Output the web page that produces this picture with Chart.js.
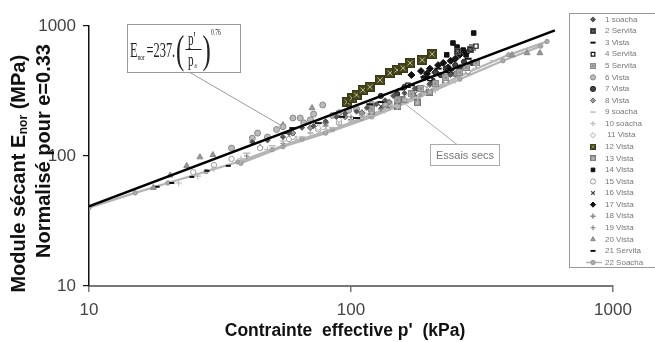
<!DOCTYPE html>
<html>
<head>
<meta charset="utf-8">
<script src="https://cdn.jsdelivr.net/npm/chart.js@4/dist/chart.umd.min.js"></script>
<style>
  html, body { margin: 0; padding: 0; background: #fff; }
  #wrap { position: relative; width: 655px; height: 342px; }
</style>
</head>
<body>
<div id="wrap"><canvas id="c" width="655" height="342"></canvas></div>
<script>
(function () {
  'use strict';

  // axes
  var xTicks = [10, 100, 1000];
  var yTicks = [10, 100, 1000];

  var seriesNames = ['1 soacha', '2 Servita', '3 Vista', '4 Servita', '5 Servita', '6 Vista', '7 Vista',
    '8 Vista', '9 soacha', '10 soacha', ' 11 Vista', '12 Vista', '13 Vista', '14 Vista', '15 Vista',
    '16 Vista', '17 Vista', '18 Vista', '19 Vista', '20 Vista', '21 Servita', '22 Soacha'];

  // fitted law E = 237 (p'/pa)^0.76, read at its two ends
  var fitLine = [[10, 41], [600, 925]];

  // [p' (kPa), Enor (MPa)]
  var s1 = [[42, 128], [48, 132], [55, 140], [58, 150], [65, 165], [72, 170], [80, 185], [88, 200], [95, 212], [105, 220], [115, 235], [125, 250], [135, 268], [145, 290], [160, 305], [175, 330], [200, 360], [240, 420]];
  var s2 = [[255, 640], [285, 660]];
  var s3 = [[56, 150], [60, 164], [75, 179], [92, 200], [105, 196], [118, 250], [130, 260], [155, 325], [170, 350], [190, 405], [215, 470], [240, 460], [280, 560]];
  var s4 = [[165, 350], [200, 395], [235, 455], [300, 700]];
  var s5 = [[120, 230], [150, 270], [170, 300], [185, 330], [210, 360], [230, 400], [260, 440], [275, 480], [300, 520]];
  var s6 = [[35, 115], [42, 137], [44, 150], [48, 140], [52, 160], [55, 168], [60, 196], [64, 196], [66, 180], [70, 190], [72, 210], [78, 247], [85, 205], [90, 215], [98, 225], [105, 230], [120, 250]];
  var s7 = [[130, 290], [150, 300], [160, 340], [180, 330], [190, 400], [205, 380], [210, 440], [220, 420], [230, 470], [240, 430], [250, 500], [260, 480], [270, 530], [290, 520]];
  var s8 = [[60, 150], [70, 165], [80, 180], [95, 200], [110, 215], [120, 240], [140, 260], [170, 300], [200, 355], [250, 430]];
  var s9 = [[40, 105], [50, 120], [65, 140], [85, 165], [110, 195], [145, 245], [190, 300], [230, 360], [300, 470], [350, 540]];
  var s10 = [[22, 62], [26, 70], [30, 80], [38, 95], [48, 112], [55, 130], [62, 135], [70, 150], [80, 160], [90, 175], [100, 185], [120, 205], [135, 225], [150, 240], [165, 265], [180, 280], [210, 320], [250, 380]];
  var s11 = [[60, 140], [75, 165], [90, 190], [115, 220], [140, 255], [165, 285], [200, 340], [230, 380], [280, 450]];
  var s12 = [[96.6, 260], [101, 279], [105, 295], [111, 322], [118, 340], [129, 384], [141, 435], [150, 459], [158, 475], [168, 519], [187, 547], [204, 609]];
  var s13 = [[120, 220], [135, 250], [151, 240], [160, 270], [179, 256], [200, 310], [230, 380], [292, 680]];
  var s14 = [[245, 740], [254, 689], [268, 653], [290, 689], [294, 883], [232, 600], [275, 600]];
  var s15 = [[25, 75], [30, 85], [35, 95], [45, 115], [58, 135], [75, 160], [90, 180], [110, 210], [140, 250], [190, 330]];
  var s16 = [[130, 240], [151, 247], [175, 300], [200, 400], [230, 450], [260, 470]];
  var s17 = [[170, 420], [185, 450], [200, 470], [215, 500], [225, 520], [240, 540], [250, 560], [260, 600], [275, 620], [210, 440], [195, 430], [235, 480]];
  var s18 = [[45, 118], [60, 140], [80, 170], [100, 190], [110, 215], [130, 230], [160, 280], [190, 320], [230, 390], [300, 500]];
  var s19 = [[40, 100], [55, 125], [70, 150], [90, 180], [100, 200], [120, 206], [140, 240], [150, 265], [170, 290], [185, 300], [210, 345], [250, 410]];
  var s20 = [[17.6, 57], [20.4, 71], [23.6, 84], [26.5, 98], [29.7, 102], [55, 173], [71, 234], [412, 598], [470, 620], [526, 620]];
  var s21 = [[18.2, 58], [20.7, 62], [24.7, 69], [28.2, 77], [34, 84]];
  var s22 = [[10, 40], [15, 52], [20, 62], [28, 76], [37, 90], [50, 112], [65, 135], [85, 160], [110, 195], [150, 250], [200, 320], [280, 440], [400, 600], [560, 760],
    null, [38, 88], [55, 118], [80, 150], [120, 200], [180, 280], [260, 390], [380, 540], [530, 700]];

  var seriesData = [s1, s2, s3, s4, s5, s6, s7, s8, s9, s10, s11, s12, s13, s14, s15, s16, s17, s18, s19, s20, s21, s22];

  function makeBox(size, fill, edge, mark) {
    var c = document.createElement('canvas');
    c.width = size; c.height = size;
    var g = c.getContext('2d');
    g.fillStyle = fill; g.fillRect(0, 0, size, size);
    g.strokeStyle = edge; g.lineWidth = 1; g.strokeRect(0.5, 0.5, size - 1, size - 1);
    g.strokeStyle = mark; g.lineWidth = 1;
    g.beginPath();
    g.moveTo(2.5, 2.5); g.lineTo(size - 2.5, size - 2.5);
    g.moveTo(size - 2.5, 2.5); g.lineTo(2.5, size - 2.5);
    g.stroke();
    return c;
  }

  var oliveBox = makeBox(10, '#45451c', '#3a3a18', '#b8b890');
  var darkBox = makeBox(7, '#2a2a2a', '#555', '#ccc');
  var grayBox = makeBox(7, '#9a9a9a', '#777', '#eee');
  var starBox = makeBox(7, '#b0b0b0', '#888', '#555');

  var styles = [
    { ps: 'rectRot', r: 2.6, bg: '#555', bd: '#555', bw: 1 },
    { ps: darkBox },
    { ps: 'line', r: 3.5, bg: '#111', bd: '#111', bw: 2 },
    { ps: 'rect', r: 3, bg: '#fff', bd: '#111', bw: 1.2 },
    { ps: starBox },
    { ps: 'circle', r: 3, bg: '#bbb', bd: '#888', bw: 1 },
    { ps: 'circle', r: 2.6, bg: '#444', bd: '#222', bw: 1 },
    { ps: 'rectRot', r: 3, bg: '#999', bd: '#666', bw: 1 },
    { ps: 'line', r: 3.5, bg: '#bbb', bd: '#bbb', bw: 1.5 },
    { ps: 'cross', r: 3.2, bg: '#bbb', bd: '#bbb', bw: 1.2 },
    { ps: 'rectRot', r: 3, bg: '#fff', bd: '#aaa', bw: 1 },
    { ps: oliveBox },
    { ps: grayBox },
    { ps: 'rect', r: 3.2, bg: '#111', bd: '#111', bw: 1 },
    { ps: 'circle', r: 2.7, bg: '#fff', bd: '#999', bw: 1 },
    { ps: 'crossRot', r: 2.7, bg: '#444', bd: '#444', bw: 1.2 },
    { ps: 'rectRot', r: 3.5, bg: '#111', bd: '#111', bw: 1 },
    { ps: 'cross', r: 3, bg: '#888', bd: '#888', bw: 1.5 },
    { ps: 'cross', r: 2.5, bg: '#777', bd: '#777', bw: 1 },
    { ps: 'triangle', r: 3.4, bg: '#999', bd: '#888', bw: 1 },
    { ps: 'line', r: 2.5, bg: '#111', bd: '#111', bw: 2 },
    { ps: 'circle', r: 2.2, bg: '#aaa', bd: '#999', bw: 1, line: '#b4b4b4', lw: 2.2 }
  ];

  function toPoints(arr) {
    return arr.map(function (p) { return p ? { x: p[0], y: p[1] } : { x: null, y: null }; });
  }

  var datasets = [{
    label: 'fit',
    data: toPoints(fitLine),
    showLine: true,
    borderColor: '#000',
    borderWidth: 2.6,
    pointRadius: 0
  }];
  seriesData.forEach(function (d, i) {
    var st = styles[i];
    datasets.push({
      label: seriesNames[i],
      data: toPoints(d),
      pointStyle: st.ps,
      pointRadius: st.r || 4,
      pointBackgroundColor: st.bg || '#888',
      pointBorderColor: st.bd || '#888',
      pointBorderWidth: st.bw || 1,
      showLine: !!st.line,
      spanGaps: false,
      borderColor: st.line || 'transparent',
      borderWidth: st.lw || 0
    });
  });

  var serif = '"Liberation Serif", "Times New Roman", serif';

  // the equation picture is horizontally condensed
  function squeezed(ctx, text, font, x, y, sx) {
    ctx.save();
    ctx.translate(x, y);
    ctx.scale(sx, 1);
    ctx.font = font;
    ctx.fillText(text, 0, 0);
    ctx.restore();
  }

  function drawNotes(chart) {
    var ctx = chart.ctx;
    ctx.save();

    // y title (two lines)
    ctx.fillStyle = '#111';
    ctx.textBaseline = 'middle';
    ctx.textAlign = 'left';
    var big = 'bold 20px "Liberation Sans", Arial, sans-serif';
    var sub = 'bold 12px "Liberation Sans", Arial, sans-serif';
    ctx.save();
    ctx.translate(19, 174);
    ctx.rotate(-Math.PI / 2);
    ctx.font = big; var a = 'Module sécant E'; var wa = ctx.measureText(a).width;
    ctx.font = sub; var wb = ctx.measureText('nor').width;
    ctx.font = big; var c = ' (MPa)'; var wc = ctx.measureText(c).width;
    var x0 = -(wa + wb + wc) / 2;
    ctx.font = big; ctx.fillText(a, x0, 0);
    ctx.font = sub; ctx.fillText('nor', x0 + wa + 0.5, 5);
    ctx.font = big; ctx.fillText(c, x0 + wa + wb + 0.5, 0);
    ctx.restore();
    ctx.save();
    ctx.translate(44, 151);
    ctx.rotate(-Math.PI / 2);
    ctx.font = big; ctx.textAlign = 'center';
    ctx.fillText('Normalisé pour e=0.33', 0, 0);
    ctx.restore();

    // x title
    ctx.font = 'bold 17.5px "Liberation Sans", Arial, sans-serif';
    ctx.textAlign = 'center';
    ctx.fillText("Contrainte  effective p'  (kPa)", 345, 331);

    // equation box
    ctx.strokeStyle = '#999';
    ctx.lineWidth = 1;
    ctx.beginPath(); ctx.moveTo(190, 72.5); ctx.lineTo(282, 126); ctx.stroke();
    ctx.fillStyle = '#fff';
    ctx.fillRect(127.5, 24.5, 113, 48);
    ctx.strokeRect(127.5, 24.5, 113, 48);
    ctx.fillStyle = '#222';
    ctx.textAlign = 'left';
    ctx.textBaseline = 'alphabetic';
    var sq = 0.62;
    squeezed(ctx, 'E', '20px ' + serif, 130, 57, sq);
    squeezed(ctx, 'nor', '9px ' + serif, 137.5, 59.5, sq);
    squeezed(ctx, '=237.', '20px ' + serif, 146.5, 57, sq);
    squeezed(ctx, '(', '40px ' + serif, 176, 63, sq);
    squeezed(ctx, "p'", '18px ' + serif, 188, 45, sq);
    squeezed(ctx, 'p', '18px ' + serif, 188, 66, sq);
    squeezed(ctx, 'a', '8px ' + serif, 194.5, 68, sq);
    squeezed(ctx, ')', '40px ' + serif, 202.5, 63, sq);
    squeezed(ctx, '0.76', '9px ' + serif, 211, 35, sq);
    ctx.strokeStyle = '#222';
    ctx.beginPath(); ctx.moveTo(185.5, 49.5); ctx.lineTo(201.5, 49.5); ctx.stroke();

    // dry tests note
    ctx.strokeStyle = '#aaa';
    ctx.beginPath(); ctx.moveTo(404, 103); ctx.lineTo(457, 144.5); ctx.stroke();
    ctx.fillStyle = '#fff';
    ctx.fillRect(430.5, 144.5, 69, 21);
    ctx.strokeRect(430.5, 144.5, 69, 21);
    ctx.fillStyle = '#777';
    ctx.font = '11px "Liberation Sans", Arial, sans-serif';
    ctx.textAlign = 'center';
    ctx.textBaseline = 'middle';
    ctx.fillText('Essais secs', 465, 155.5);

    // legend
    ctx.fillStyle = '#fff';
    ctx.fillRect(569.5, 13.5, 100, 254);
    ctx.strokeStyle = '#999';
    ctx.strokeRect(569.5, 13.5, 100, 254);
    ctx.font = '8px "Liberation Sans", Arial, sans-serif';
    ctx.textAlign = 'left';
    for (var i = 0; i < seriesNames.length; i++) {
      var st = styles[i];
      var y = 19.5 + i * 11.57;
      if (st.line) {
        ctx.strokeStyle = st.line; ctx.lineWidth = 1.5;
        ctx.beginPath(); ctx.moveTo(586, y); ctx.lineTo(602, y); ctx.stroke();
      }
      if (typeof st.ps === 'string') {
        ctx.fillStyle = st.bg; ctx.strokeStyle = st.bd; ctx.lineWidth = st.bw;
        Chart.helpers.drawPoint(ctx, { pointStyle: st.ps, radius: Math.min(st.r, 2.6), rotation: 0, borderWidth: st.bw }, 593, y);
      } else {
        ctx.drawImage(st.ps, 590, y - 3, 6, 6);
      }
      ctx.fillStyle = '#777';
      ctx.fillText(seriesNames[i], 605, y);
    }
    ctx.restore();
  }

  var axisFont = { family: '"Liberation Sans", Arial, sans-serif', size: 17 };

  new Chart(document.getElementById('c'), {
    type: 'scatter',
    data: { datasets: datasets },
    options: {
      responsive: false,
      animation: false,
      layout: { padding: { left: 0, right: 42, top: 26, bottom: 0 } },
      plugins: { legend: { display: false }, tooltip: { enabled: false } },
      scales: {
        x: {
          type: 'logarithmic', min: 10, max: 1000,
          afterBuildTicks: function (s) { s.ticks = xTicks.map(function (v) { return { value: v }; }); },
          afterFit: function (s) { s.height = 56; },
          ticks: { color: '#444', font: axisFont, padding: 8, maxRotation: 0, autoSkip: false,
            callback: function (v) { return String(v); } },
          grid: { drawOnChartArea: false, drawTicks: true, tickLength: 6, color: '#777', lineWidth: 1.5 },
          border: { color: '#777', width: 2 }
        },
        y: {
          type: 'logarithmic', min: 10, max: 1000,
          afterBuildTicks: function (s) { s.ticks = yTicks.map(function (v) { return { value: v }; }); },
          afterFit: function (s) { s.width = 89; },
          ticks: { color: '#444', font: axisFont, padding: 7, autoSkip: false,
            callback: function (v) { return String(v); } },
          grid: { drawOnChartArea: false, drawTicks: true, tickLength: 6, color: '#111', lineWidth: 1.2 },
          border: { color: '#111', width: 1.5 }
        }
      }
    },
    plugins: [{ id: 'notes', afterDraw: drawNotes }]
  });
})();
</script>
</body>
</html>
